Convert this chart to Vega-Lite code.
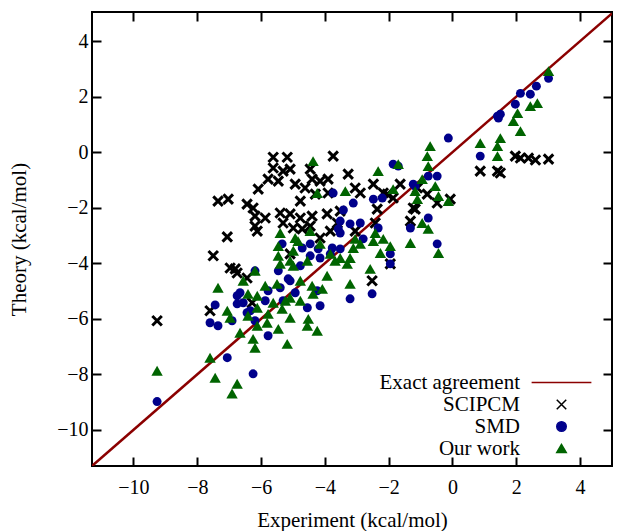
{
  "$schema": "https://vega.github.io/schema/vega-lite/v6.json",
  "width": 520,
  "height": 454,
  "autosize": {"type": "none"},
  "padding": {"left": 92, "top": 12, "right": 5, "bottom": 65},
  "background": "white",
  "config": {
    "view": {"stroke": "black", "strokeWidth": 2},
    "font": "Liberation Serif",
    "axis": {
      "grid": false, "domain": false, "tickColor": "black", "tickWidth": 2, "tickSize": -9,
      "labelFont": "Liberation Serif", "labelFontSize": 20, "labelColor": "black",
      "titleFont": "Liberation Serif", "titleFontSize": 21, "titleFontWeight": "normal", "titleColor": "black"
    }
  },
  "datasets": {
    "diag": [{"x": -11.3, "y": -11.3}, {"x": 5, "y": 5}],
    "pts": [
      {"series":"SCIPCM","x":-9.26,"y":-6.07},{"series":"SCIPCM","x":-7.60,"y":-5.71},{"series":"SCIPCM","x":-7.50,"y":-3.73},{"series":"SCIPCM","x":-6.97,"y":-4.17},{"series":"SCIPCM","x":-6.75,"y":-4.35},{"series":"SCIPCM","x":-6.44,"y":-4.53},{"series":"SCIPCM","x":-5.62,"y":-0.18},{"series":"SCIPCM","x":-5.18,"y":-0.18},{"series":"SCIPCM","x":-3.74,"y":-0.14},{"series":"SCIPCM","x":-5.62,"y":-0.57},{"series":"SCIPCM","x":-5.31,"y":-0.68},{"series":"SCIPCM","x":-5.09,"y":-0.61},{"series":"SCIPCM","x":-5.78,"y":-0.97},{"series":"SCIPCM","x":-5.46,"y":-1.04},{"series":"SCIPCM","x":-4.93,"y":-1.15},{"series":"SCIPCM","x":-6.09,"y":-1.33},{"series":"SCIPCM","x":-4.46,"y":-0.61},{"series":"SCIPCM","x":-4.40,"y":-0.97},{"series":"SCIPCM","x":-4.15,"y":-1.04},{"series":"SCIPCM","x":-3.90,"y":-0.97},{"series":"SCIPCM","x":-3.27,"y":-0.79},{"series":"SCIPCM","x":-4.62,"y":-1.29},{"series":"SCIPCM","x":-4.30,"y":-1.51},{"series":"SCIPCM","x":-3.90,"y":-1.47},{"series":"SCIPCM","x":-3.05,"y":-1.29},{"series":"SCIPCM","x":-2.89,"y":-1.47},{"series":"SCIPCM","x":-6.44,"y":-1.87},{"series":"SCIPCM","x":-6.25,"y":-2.01},{"series":"SCIPCM","x":-6.19,"y":-2.30},{"series":"SCIPCM","x":-6.19,"y":-2.66},{"series":"SCIPCM","x":-5.87,"y":-2.37},{"series":"SCIPCM","x":-5.40,"y":-2.19},{"series":"SCIPCM","x":-5.09,"y":-2.22},{"series":"SCIPCM","x":-4.77,"y":-2.37},{"series":"SCIPCM","x":-4.40,"y":-2.30},{"series":"SCIPCM","x":-5.31,"y":-2.55},{"series":"SCIPCM","x":-4.99,"y":-2.73},{"series":"SCIPCM","x":-4.71,"y":-2.76},{"series":"SCIPCM","x":-4.46,"y":-2.66},{"series":"SCIPCM","x":-3.93,"y":-2.22},{"series":"SCIPCM","x":-3.52,"y":-2.12},{"series":"SCIPCM","x":-3.61,"y":-2.55},{"series":"SCIPCM","x":-3.83,"y":-2.84},{"series":"SCIPCM","x":-4.15,"y":-3.09},{"series":"SCIPCM","x":-3.05,"y":-2.84},{"series":"SCIPCM","x":-2.48,"y":-1.15},{"series":"SCIPCM","x":-2.04,"y":-1.51},{"series":"SCIPCM","x":-2.36,"y":-2.05},{"series":"SCIPCM","x":-2.42,"y":-2.55},{"series":"SCIPCM","x":-1.64,"y":-1.15},{"series":"SCIPCM","x":-1.32,"y":-2.48},{"series":"SCIPCM","x":-1.95,"y":-4.02},{"series":"SCIPCM","x":-1.23,"y":-2.01},{"series":"SCIPCM","x":-1.10,"y":-1.29},{"series":"SCIPCM","x":-7.35,"y":-1.76},{"series":"SCIPCM","x":-7.03,"y":-1.69},{"series":"SCIPCM","x":-7.06,"y":-3.05},{"series":"SCIPCM","x":-6.12,"y":-2.84},{"series":"SCIPCM","x":-0.79,"y":-1.51},{"series":"SCIPCM","x":-0.48,"y":-1.83},{"series":"SCIPCM","x":-0.07,"y":-1.69},{"series":"SCIPCM","x":0.87,"y":-0.68},{"series":"SCIPCM","x":1.41,"y":-0.68},{"series":"SCIPCM","x":1.50,"y":-0.75},{"series":"SCIPCM","x":1.97,"y":-0.14},{"series":"SCIPCM","x":2.13,"y":-0.21},{"series":"SCIPCM","x":2.38,"y":-0.21},{"series":"SCIPCM","x":2.60,"y":-0.28},{"series":"SCIPCM","x":3.01,"y":-0.25},{"series":"SCIPCM","x":-2.52,"y":-4.63},{"series":"SCIPCM","x":-5.09,"y":-3.66},{"series":"SCIPCM","x":-1.86,"y":-1.65},{"series":"SCIPCM","x":-2.17,"y":-1.47},{"series":"SCIPCM","x":-1.17,"y":-2.05},{"series":"SCIPCM","x":-6.81,"y":-4.20},{"series":"SCIPCM","x":-6.28,"y":-5.42},{"series":"SCIPCM","x":-4.77,"y":-1.76},
      {"series":"SMD","x":-9.26,"y":-8.98},{"series":"SMD","x":-7.06,"y":-7.40},{"series":"SMD","x":-6.25,"y":-7.98},{"series":"SMD","x":-6.19,"y":-4.27},{"series":"SMD","x":-6.66,"y":-5.06},{"series":"SMD","x":-7.44,"y":-5.50},{"series":"SMD","x":-6.75,"y":-5.46},{"series":"SMD","x":-6.56,"y":-5.42},{"series":"SMD","x":-7.60,"y":-6.14},{"series":"SMD","x":-7.35,"y":-6.25},{"series":"SMD","x":-6.91,"y":-6.07},{"series":"SMD","x":-6.44,"y":-5.78},{"series":"SMD","x":-6.19,"y":-6.07},{"series":"SMD","x":-5.78,"y":-6.61},{"series":"SMD","x":-3.21,"y":-5.28},{"series":"SMD","x":-5.09,"y":-4.63},{"series":"SMD","x":-5.40,"y":-4.88},{"series":"SMD","x":-4.55,"y":-5.60},{"series":"SMD","x":-4.15,"y":-5.53},{"series":"SMD","x":-4.24,"y":-4.99},{"series":"SMD","x":-3.74,"y":-1.47},{"series":"SMD","x":-3.11,"y":-1.83},{"series":"SMD","x":-3.42,"y":-2.08},{"series":"SMD","x":-3.52,"y":-2.48},{"series":"SMD","x":-3.58,"y":-2.76},{"series":"SMD","x":-3.21,"y":-2.58},{"series":"SMD","x":-2.48,"y":-1.69},{"series":"SMD","x":-2.20,"y":-1.65},{"series":"SMD","x":-1.86,"y":-0.43},{"series":"SMD","x":-1.70,"y":-0.50},{"series":"SMD","x":-1.23,"y":-1.15},{"series":"SMD","x":-0.76,"y":-0.86},{"series":"SMD","x":-0.48,"y":-0.86},{"series":"SMD","x":-1.32,"y":-2.73},{"series":"SMD","x":-0.76,"y":-2.37},{"series":"SMD","x":-5.34,"y":-3.30},{"series":"SMD","x":-4.46,"y":-3.30},{"series":"SMD","x":-3.77,"y":-3.45},{"series":"SMD","x":-3.52,"y":-3.48},{"series":"SMD","x":-2.80,"y":-3.12},{"series":"SMD","x":-4.21,"y":-3.48},{"series":"SMD","x":-0.48,"y":-3.30},{"series":"SMD","x":-1.95,"y":-3.66},{"series":"SMD","x":-0.13,"y":0.51},{"series":"SMD","x":-1.17,"y":-1.22},{"series":"SMD","x":-1.95,"y":-4.02},{"series":"SMD","x":-2.89,"y":-2.55},{"series":"SMD","x":-2.33,"y":-2.73},{"series":"SMD","x":0.87,"y":-0.14},{"series":"SMD","x":1.41,"y":1.30},{"series":"SMD","x":1.44,"y":1.23},{"series":"SMD","x":1.50,"y":1.37},{"series":"SMD","x":1.97,"y":1.73},{"series":"SMD","x":2.13,"y":2.12},{"series":"SMD","x":2.44,"y":2.09},{"series":"SMD","x":2.63,"y":2.38},{"series":"SMD","x":3.01,"y":2.66},{"series":"SMD","x":-2.52,"y":-5.10},{"series":"SMD","x":-6.34,"y":-5.71},{"series":"SMD","x":-5.15,"y":-4.56},{"series":"SMD","x":-4.46,"y":-3.73},{"series":"SMD","x":-4.15,"y":-3.81},{"series":"SMD","x":-3.83,"y":-3.66},{"series":"SMD","x":-5.46,"y":-4.27},{"series":"SMD","x":-4.77,"y":-4.09},{"series":"SMD","x":-5.78,"y":-4.99},{"series":"SMD","x":-5.87,"y":-5.35},{"series":"SMD","x":-4.93,"y":-5.06},{"series":"SMD","x":-5.31,"y":-5.35},{"series":"SMD","x":-4.71,"y":-3.45},{"series":"SMD","x":-6.75,"y":-5.17},{"series":"SMD","x":-3.52,"y":-2.91},
      {"series":"Our work","x":-9.26,"y":-7.87},{"series":"Our work","x":-7.60,"y":-7.40},{"series":"Our work","x":-7.44,"y":-8.12},{"series":"Our work","x":-6.75,"y":-8.34},{"series":"Our work","x":-6.91,"y":-8.69},{"series":"Our work","x":-7.35,"y":-4.88},{"series":"Our work","x":-6.19,"y":-4.27},{"series":"Our work","x":-6.56,"y":-4.63},{"series":"Our work","x":-6.41,"y":-5.10},{"series":"Our work","x":-6.12,"y":-5.17},{"series":"Our work","x":-7.06,"y":-5.71},{"series":"Our work","x":-6.97,"y":-5.96},{"series":"Our work","x":-6.41,"y":-5.89},{"series":"Our work","x":-6.12,"y":-5.60},{"series":"Our work","x":-5.78,"y":-5.82},{"series":"Our work","x":-5.81,"y":-6.14},{"series":"Our work","x":-6.66,"y":-6.50},{"series":"Our work","x":-6.12,"y":-6.25},{"series":"Our work","x":-5.46,"y":-6.36},{"series":"Our work","x":-6.25,"y":-6.72},{"series":"Our work","x":-6.19,"y":-7.04},{"series":"Our work","x":-5.18,"y":-6.90},{"series":"Our work","x":-4.52,"y":-6.00},{"series":"Our work","x":-4.55,"y":-6.25},{"series":"Our work","x":-4.24,"y":-6.43},{"series":"Our work","x":-5.09,"y":-5.96},{"series":"Our work","x":-5.62,"y":-5.42},{"series":"Our work","x":-5.46,"y":-3.73},{"series":"Our work","x":-4.99,"y":-4.09},{"series":"Our work","x":-5.40,"y":-4.02},{"series":"Our work","x":-4.77,"y":-4.63},{"series":"Our work","x":-4.40,"y":-4.81},{"series":"Our work","x":-4.08,"y":-4.92},{"series":"Our work","x":-4.37,"y":-5.10},{"series":"Our work","x":-3.93,"y":-4.45},{"series":"Our work","x":-3.68,"y":-3.91},{"series":"Our work","x":-3.30,"y":-4.02},{"series":"Our work","x":-3.21,"y":-4.74},{"series":"Our work","x":-5.50,"y":-4.74},{"series":"Our work","x":-5.09,"y":-5.24},{"series":"Our work","x":-5.34,"y":-5.64},{"series":"Our work","x":-5.24,"y":-5.35},{"series":"Our work","x":-4.37,"y":-0.32},{"series":"Our work","x":-4.24,"y":-1.47},{"series":"Our work","x":-3.36,"y":-1.40},{"series":"Our work","x":-2.33,"y":-0.68},{"series":"Our work","x":-1.70,"y":-0.43},{"series":"Our work","x":-1.86,"y":-1.33},{"series":"Our work","x":-1.17,"y":-1.40},{"series":"Our work","x":-0.79,"y":-0.14},{"series":"Our work","x":-0.76,"y":-0.50},{"series":"Our work","x":-1.10,"y":-1.69},{"series":"Our work","x":-0.95,"y":-2.55},{"series":"Our work","x":-0.76,"y":-2.76},{"series":"Our work","x":-1.32,"y":-3.27},{"series":"Our work","x":-2.42,"y":-2.91},{"series":"Our work","x":-2.17,"y":-3.12},{"series":"Our work","x":-1.95,"y":-3.38},{"series":"Our work","x":-2.26,"y":-3.63},{"series":"Our work","x":-3.05,"y":-3.12},{"series":"Our work","x":-3.11,"y":-3.45},{"series":"Our work","x":-3.21,"y":-3.81},{"series":"Our work","x":-5.40,"y":-2.91},{"series":"Our work","x":-5.46,"y":-3.38},{"series":"Our work","x":-4.84,"y":-3.20},{"series":"Our work","x":-4.46,"y":-2.84},{"series":"Our work","x":-4.15,"y":-3.30},{"series":"Our work","x":-4.99,"y":-3.55},{"series":"Our work","x":-4.55,"y":-3.91},{"series":"Our work","x":-3.83,"y":-3.66},{"series":"Our work","x":-3.52,"y":-3.81},{"series":"Our work","x":-2.58,"y":-4.20},{"series":"Our work","x":-5.09,"y":-3.91},{"series":"Our work","x":-0.70,"y":0.22},{"series":"Our work","x":-0.95,"y":-0.97},{"series":"Our work","x":-0.54,"y":-1.22},{"series":"Our work","x":-0.44,"y":-1.58},{"series":"Our work","x":-0.13,"y":-1.76},{"series":"Our work","x":-2.48,"y":-3.20},{"series":"Our work","x":-2.89,"y":-3.30},{"series":"Our work","x":-0.44,"y":-3.63},{"series":"Our work","x":3.01,"y":2.92},{"series":"Our work","x":0.87,"y":0.33},{"series":"Our work","x":1.50,"y":0.51},{"series":"Our work","x":1.41,"y":0.22},{"series":"Our work","x":1.41,"y":-0.14},{"series":"Our work","x":1.91,"y":1.12},{"series":"Our work","x":2.04,"y":1.41},{"series":"Our work","x":2.13,"y":0.76},{"series":"Our work","x":2.44,"y":1.66},{"series":"Our work","x":2.66,"y":1.77},{"series":"Our work","x":-4.93,"y":-3.09},{"series":"Our work","x":-5.87,"y":-4.81},{"series":"Our work","x":-4.77,"y":-5.35}
    ]
  },
  "layer": [
    {
      "data": {"name": "diag"},
      "mark": {"type": "line", "color": "#8b0000", "strokeWidth": 2.5, "clip": true},
      "encoding": {
        "x": {"field": "x", "type": "quantitative", "scale": {"domain": [-11.3, 5], "nice": false, "zero": false},
              "axis": {"orient": "top", "labels": false, "title": null, "values": [-10,-8,-6,-4,-2,0,2,4]}},
        "y": {"field": "y", "type": "quantitative", "scale": {"domain": [-11.3, 5.05], "nice": false, "zero": false},
              "axis": {"orient": "right", "labels": false, "title": null, "values": [-10,-8,-6,-4,-2,0,2,4]}}
      }
    },
    {
      "data": {"name": "pts"},
      "transform": [{"filter": "datum.series === 'SCIPCM'"}],
      "mark": {"type": "point", "filled": false, "strokeWidth": 3, "size": 90, "opacity": 1},
      "encoding": {
        "x": {"field": "x", "type": "quantitative",
              "axis": {"orient": "bottom", "title": "Experiment (kcal/mol)", "values": [-10,-8,-6,-4,-2,0,2,4], "labelPadding": 20, "titlePadding": 12}},
        "y": {"field": "y", "type": "quantitative",
              "axis": {"orient": "left", "title": "Theory (kcal/mol)", "values": [-10,-8,-6,-4,-2,0,2,4], "labelPadding": 13, "titlePadding": 27}},
        "color": {"field": "series", "type": "nominal",
                  "scale": {"domain": ["Exact agreement", "SCIPCM", "SMD", "Our work"], "range": ["#8b0000", "#000000", "#00008b", "#006400"]},
                  "legend": {"orient": "none", "legendX": 459, "legendY": 360, "title": null, "labelAlign": "right", "labelOffset": -52,
                             "labelFont": "Liberation Serif", "labelFontSize": 21, "labelColor": "black", "rowPadding": 0, "padding": 0, "symbolSize": 90,
                             "encode": {"symbols": {"update": {
                               "fill": {"signal": "datum.value === 'SMD' || datum.value === 'Our work' ? scale('color', datum.value) : 'transparent'"},
                               "stroke": {"signal": "datum.value === 'SMD' || datum.value === 'Our work' ? 'transparent' : scale('color', datum.value)"},
                               "strokeWidth": {"value": 2.5},
                               "opacity": {"value": 1}
                             }}}}},
        "shape": {"field": "series", "type": "nominal",
                  "scale": {"domain": ["Exact agreement", "SCIPCM", "SMD", "Our work"], "range": ["M-6.3,0H6.3", "M-1,-1L1,1M-1,1L1,-1", "circle", "triangle-up"]}}
      }
    },
    {
      "data": {"name": "pts"},
      "transform": [{"filter": "datum.series === 'SMD'"}],
      "mark": {"type": "point", "filled": true, "size": 80, "opacity": 1},
      "encoding": {
        "x": {"field": "x", "type": "quantitative", "axis": null},
        "y": {"field": "y", "type": "quantitative", "axis": null},
        "color": {"field": "series", "type": "nominal"},
        "shape": {"field": "series", "type": "nominal"}
      }
    },
    {
      "data": {"name": "pts"},
      "transform": [{"filter": "datum.series === 'Our work'"}],
      "mark": {"type": "point", "filled": true, "size": 130, "opacity": 1},
      "encoding": {
        "x": {"field": "x", "type": "quantitative", "axis": null},
        "y": {"field": "y", "type": "quantitative", "axis": null},
        "color": {"field": "series", "type": "nominal"},
        "shape": {"field": "series", "type": "nominal"}
      }
    }
  ],
  "resolve": {"axis": {"x": "independent", "y": "independent"}}
}
